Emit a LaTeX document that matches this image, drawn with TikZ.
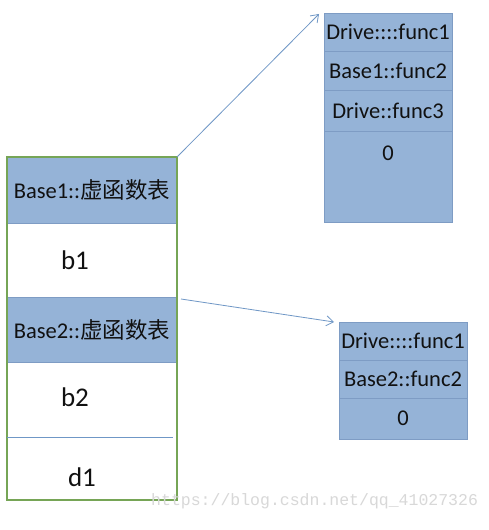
\documentclass[tikz,border=0pt]{standalone}
\usepackage{fontspec}
\setmainfont{Carlito}
\newfontfamily\cjk{Noto Sans CJK SC}
\newfontfamily\wmfont{Liberation Mono}
\usetikzlibrary{
  arrows.meta,
  positioning,
}
\definecolor{cellblue}{HTML}{95B3D7}
\definecolor{cellline}{HTML}{7E9CC4}
\definecolor{framegreen}{HTML}{76A556}
\definecolor{ptrblue}{HTML}{6F97C6}
\definecolor{wmgray}{HTML}{D8D8D8}
\definecolor{ink}{HTML}{111111}
\tikzset{
  every node/.append style={text=ink},
  hdrcell/.style={
    draw=cellline,
    fill=cellblue,
    line width=0.8pt,
    minimum width=170pt,
    inner sep=0pt,
    outer sep=0pt,
    font=\fontsize{22.5}{26}\selectfont,
  },
  datacell/.style={
    minimum width=170pt,
    inner sep=0pt,
    outer sep=0pt,
  },
  fieldtext/.style={inner sep=0pt, font=\fontsize{27}{30}\selectfont},
  slot/.style={
    draw=cellline,
    fill=cellblue,
    line width=0.8pt,
    minimum width=128pt,
    inner sep=0pt,
    outer sep=0pt,
    font=\fontsize{22.5}{26}\selectfont,
  },
  frame/.style={draw=framegreen, line width=2pt},
  divline/.style={draw=ptrblue, line width=0.8pt},
  ptr/.style={draw=ptrblue, line width=0.8pt, -{Straight Barb[length=7pt,width=10pt]}},
  wmark/.style={font=\wmfont\fontsize{16.5}{18}\selectfont, text=wmgray, inner sep=0pt},
}

\begin{document}
\begin{tikzpicture}[x=1pt,y=1pt]
  \fill[white] (0,0) rectangle (488,530);
  \useasboundingbox (0,0) rectangle (488,530);

  % object layout
  \node[hdrcell, minimum height=66pt] (c1) at (92,340) {Base1::{\cjk 虚函数表}};
  \node[datacell, minimum height=74pt, below=0pt of c1] (c2) {};
  \node[hdrcell, minimum height=65pt, below=0pt of c2] (c3) {Base2::{\cjk 虚函数表}};
  \node[datacell, minimum height=75pt, below=0pt of c3] (c4) {};
  \node[datacell, minimum height=63pt, below=0pt of c4] (c5) {};
  \node[fieldtext] (b1) at ([xshift=-17pt]c2.center) {b1};
  \node[fieldtext] (b2) at ([xshift=-17pt,yshift=2pt]c4.center) {b2};
  \node[fieldtext] (d1) at ([xshift=-10pt,yshift=-9pt]c5.center) {d1};
  \draw[frame] (c1.north west) rectangle (c5.south east);
  \draw[divline] (c5.north west) -- ([xshift=-4pt]c5.north east);

  % vtable of Base1
  \node[slot, minimum height=38pt] (t1a) at (388,498) {Drive::::func1};
  \node[slot, minimum height=39pt, below=0pt of t1a] (t1b) {Base1::func2};
  \node[slot, minimum height=41pt, below=0pt of t1b] (t1c) {Drive::func3};
  \node[slot, minimum height=91pt, below=0pt of t1c] (t1d) {};
  \node[font=\fontsize{22.5}{26}\selectfont, inner sep=0pt] (t1zero)
    at ([yshift=-22pt]t1d.north) {0};

  % vtable of Base2
  \node[slot, minimum height=38pt] (t2a) at (403,189) {Drive::::func1};
  \node[slot, minimum height=38pt, below=0pt of t2a] (t2b) {Base2::func2};
  \node[slot, minimum height=41pt, below=0pt of t2b] (t2c) {0};

  \draw[ptr] (c1.north east) -- ([xshift=-5pt,yshift=-1pt]t1a.north west);
  \draw[ptr] ([xshift=4pt,yshift=-2pt]c3.north east) -- ([xshift=-5pt]t2a.north west);

  \node[wmark, anchor=base west] (wm) at (151,24) {https://blog.csdn.net/qq\_41027326};
\end{tikzpicture}
\end{document}
